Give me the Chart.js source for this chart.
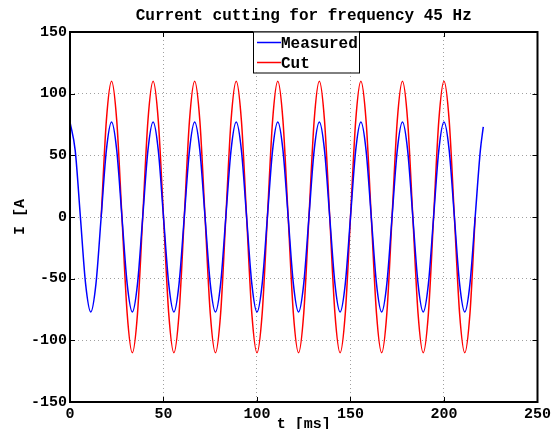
<!DOCTYPE html>
<html>
<head>
<meta charset="utf-8">
<script src="https://cdn.jsdelivr.net/npm/chart.js@4.4.1/dist/chart.umd.min.js"></script>
<style>
  html, body { margin: 0; padding: 0; background: #fff; }
  #wrap { width: 554px; height: 429px; position: relative; }
</style>
</head>
<body>
<div id="wrap"><canvas id="chart"></canvas></div>
<script>
// time axis [ms], samples every 1/8 period of 45 Hz
const timeMs = [
  0, 2.78, 5.56, 8.33, 11.11, 13.89, 16.67, 19.44,
  22.22, 25, 27.78, 30.56, 33.33, 36.11, 38.89, 41.67,
  44.44, 47.22, 50, 52.78, 55.56, 58.33, 61.11, 63.89,
  66.67, 69.44, 72.22, 75, 77.78, 80.56, 83.33, 86.11,
  88.89, 91.67, 94.44, 97.22, 100, 102.78, 105.56, 108.33,
  111.11, 113.89, 116.67, 119.44, 122.22, 125, 127.78, 130.56,
  133.33, 136.11, 138.89, 141.67, 144.44, 147.22, 150, 152.78,
  155.56, 158.33, 161.11, 163.89, 166.67, 169.44, 172.22, 175,
  177.78, 180.56, 183.33, 186.11, 188.89, 191.67, 194.44, 197.22,
  200, 202.78, 205.56, 208.33, 211.11, 213.89, 216.67, 219.44,
  221
];

const measured = [
  77, 54, 0, -54, -77, -54, 0, 54,
  77, 54, 0, -54, -77, -54, 0, 54,
  77, 54, 0, -54, -77, -54, 0, 54,
  77, 54, 0, -54, -77, -54, 0, 54,
  77, 54, 0, -54, -77, -54, 0, 54,
  77, 54, 0, -54, -77, -54, 0, 54,
  77, 54, 0, -54, -77, -54, 0, 54,
  77, 54, 0, -54, -77, -54, 0, 54,
  77, 54, 0, -54, -77, -54, 0, 54,
  77, 54, 0, -54, -77, -54, 0, 54,
  73
];

const cut = [
  null, null, null, null, null, null, 0, 78,
  110, 78, 0, -78, -110, -78, 0, 78,
  110, 78, 0, -78, -110, -78, 0, 78,
  110, 78, 0, -78, -110, -78, 0, 78,
  110, 78, 0, -78, -110, -78, 0, 78,
  110, 78, 0, -78, -110, -78, 0, 78,
  110, 78, 0, -78, -110, -78, 0, 78,
  110, 78, 0, -78, -110, -78, 0, 78,
  110, 78, 0, -78, -110, -78, 0, 78,
  110, 78, 0, -78, -110, -78, 0, null,
  null
];

const xTicks = [0, 50, 100, 150, 200, 250];
const yTicks = [-150, -100, -50, 0, 50, 100, 150];

const FONT = '"Liberation Mono", "Courier New", monospace';

function toPoints(ys) {
  return ys.map((y, i) => ({ x: timeMs[i], y: y }));
}

// ramka, znaczniki do srodka, tytuly i legenda w stylu matlaba
const matlabFrame = {
  id: 'matlabFrame',
  afterDraw(chart) {
    const { ctx, chartArea: a, scales } = chart;
    ctx.save();

    ctx.strokeStyle = '#000';
    ctx.lineWidth = 1;
    const tl = 5;
    ctx.beginPath();
    xTicks.forEach(v => {
      const px = Math.round(scales.x.getPixelForValue(v)) + 0.5;
      ctx.moveTo(px, a.bottom); ctx.lineTo(px, a.bottom - tl);
      ctx.moveTo(px, a.top); ctx.lineTo(px, a.top + tl);
    });
    yTicks.forEach(v => {
      const py = Math.round(scales.y.getPixelForValue(v)) + 0.5;
      ctx.moveTo(a.left, py); ctx.lineTo(a.left + tl, py);
      ctx.moveTo(a.right, py); ctx.lineTo(a.right - tl, py);
    });
    ctx.stroke();

    ctx.lineWidth = 2;
    ctx.strokeRect(a.left, a.top, a.right - a.left, a.bottom - a.top);

    // tytul
    ctx.fillStyle = '#000';
    ctx.font = 'bold 16px ' + FONT;
    ctx.textAlign = 'center';
    ctx.textBaseline = 'middle';
    ctx.fillText('Current cutting for frequency 45 Hz', (a.left + a.right) / 2, 16);

    // os x
    ctx.font = 'bold 15px ' + FONT;
    ctx.fillText('t [ms]', (a.left + a.right) / 2, 424);

    // os y
    ctx.save();
    ctx.translate(20, 217);
    ctx.rotate(-Math.PI / 2);
    ctx.fillText('I [A', 0, 0);
    ctx.restore();

    // legenda
    const lx = 253, ly = 31.5, lw = 106, lh = 41;
    ctx.fillStyle = '#fff';
    ctx.fillRect(lx, ly, lw, lh);
    ctx.strokeStyle = '#000';
    ctx.lineWidth = 1;
    ctx.strokeRect(lx + 0.5, ly + 0.5, lw, lh);

    const items = [
      { label: 'Measured', color: '#0000ff', y: ly + 11 },
      { label: 'Cut', color: '#ff0000', y: ly + 31 }
    ];
    items.forEach(it => {
      ctx.strokeStyle = it.color;
      ctx.lineWidth = 1.5;
      ctx.beginPath();
      ctx.moveTo(lx + 4, it.y);
      ctx.lineTo(lx + 28, it.y);
      ctx.stroke();
      ctx.fillStyle = '#000';
      ctx.font = 'bold 16px ' + FONT;
      ctx.textAlign = 'left';
      ctx.textBaseline = 'middle';
      ctx.fillText(it.label, lx + 28, it.y + 1);
    });

    ctx.restore();
  }
};

new Chart(document.getElementById('chart'), {
  type: 'line',
  data: {
    datasets: [
      {
        label: 'Measured',
        data: toPoints(measured),
        borderColor: '#0000ff',
        borderWidth: 1.5,
        pointRadius: 0,
        cubicInterpolationMode: 'monotone',
        fill: false
      },
      {
        label: 'Cut',
        data: toPoints(cut),
        borderColor: '#ff0000',
        borderWidth: 1.5,
        pointRadius: 0,
        cubicInterpolationMode: 'monotone',
        spanGaps: false,
        fill: false
      }
    ]
  },
  options: {
    responsive: true,
    maintainAspectRatio: false,
    animation: false,
    layout: { padding: { top: 32, right: 15, left: 0, bottom: 0 } },
    plugins: {
      legend: { display: false },
      title: { display: false },
      tooltip: { enabled: false }
    },
    scales: {
      x: {
        type: 'linear',
        min: 0,
        max: 250,
        afterBuildTicks: s => { s.ticks = xTicks.map(v => ({ value: v })); },
        afterFit: s => { s.height = 27; },
        ticks: {
          color: '#000',
          padding: 3,
          maxRotation: 0,
          font: { family: FONT, size: 15, weight: 'bold' }
        },
        grid: { color: '#a0a0a0', drawTicks: false },
        border: { display: false, dash: [1, 3] }
      },
      y: {
        type: 'linear',
        min: -150,
        max: 150,
        afterBuildTicks: s => { s.ticks = yTicks.map(v => ({ value: v })); },
        afterFit: s => { s.width = 70; },
        ticks: {
          color: '#000',
          padding: 3,
          font: { family: FONT, size: 15, weight: 'bold' }
        },
        grid: { color: '#a0a0a0', drawTicks: false },
        border: { display: false, dash: [1, 3] }
      }
    }
  },
  plugins: [matlabFrame]
});
</script>
</body>
</html>
